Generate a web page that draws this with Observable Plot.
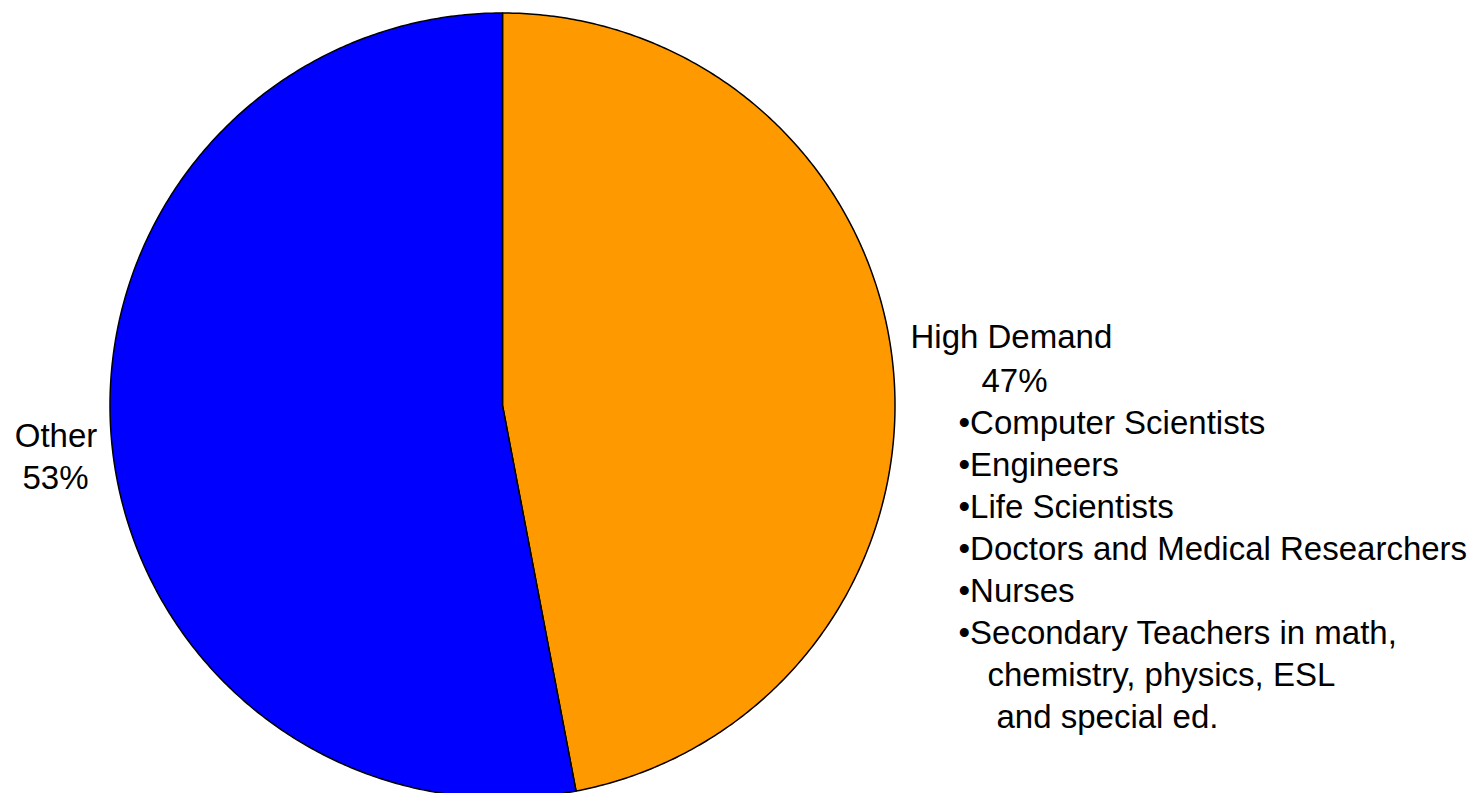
<!DOCTYPE html>
<html>
<head>
<meta charset="utf-8">
<script src="https://cdn.jsdelivr.net/npm/d3@7"></script>
<script src="https://cdn.jsdelivr.net/npm/@observablehq/plot@0.6"></script>
<style>
  html, body { margin: 0; padding: 0; background: #fff; overflow: hidden; }
  svg { display: block; }
</style>
</head>
<body>
<div id="chart"></div>
<script>
// Share of occupations
const categories = ["High Demand", "Other"];
const shares = [47, 53];
const colors = ["#FF9900", "#0000FF"];

// Occupations listed under the high-demand slice (continuation lines are wrapped text)
const occupations = [
  "Computer Scientists",
  "Engineers",
  "Life Scientists",
  "Doctors and Medical Researchers",
  "Nurses",
  "Secondary Teachers in math,"
];
const occupationWrap = ["chemistry, physics, ESL", "and special ed."];

// Slice outlines: start at 12 o'clock and go clockwise, sampling the arc finely
const total = d3.sum(shares);
const slices = [];
let start = 0;
categories.forEach((category, i) => {
  const end = start + (shares[i] / total) * 2 * Math.PI;
  const steps = Math.max(2, Math.ceil((end - start) / (Math.PI / 360)));
  slices.push({category, x: 0, y: 0});
  for (let k = 0; k <= steps; ++k) {
    const a = start + (end - start) * (k / steps);
    slices.push({category, x: Math.sin(a), y: Math.cos(a)});
  }
  slices.push({category, x: 0, y: 0});
  start = end;
});

const font = "Liberation Sans, Arial, Helvetica, sans-serif";
const fs = 33;
const label = (text, dx, dy, anchor = "start") =>
  Plot.text([text], {
    text: d => d,
    frameAnchor: "top-left",
    dx, dy,
    textAnchor: anchor,
    lineAnchor: "bottom",
    fontSize: fs,
    fill: "black"
  });

const hd = categories.indexOf("High Demand");
const ot = categories.indexOf("Other");

const marks = [
  Plot.line(slices, {
    x: "x", y: "y", z: "category",
    fill: "category",
    stroke: "black",
    strokeWidth: 1.5,
    strokeLinejoin: "round"
  }),
  label(categories[ot], 55.5, 446, "middle"),
  label(`${shares[ot]}%`, 55, 488, "middle"),
  label(categories[hd], 910, 347),
  label(`${shares[hd]}%`, 981, 391),
  ...occupations.map((o, i) => label(`•${o}`, 958, 433 + 42 * i)),
  label(occupationWrap[0], 987, 433 + 42 * occupations.length),
  label(occupationWrap[1], 996, 433 + 42 * (occupations.length + 1))
];

const chart = Plot.plot({
  width: 1472,
  height: 793,
  margin: 0,
  style: {fontFamily: font, background: "white", overflow: "visible"},
  x: {domain: [-1, 1], range: [109.5, 894.5], axis: null},
  y: {domain: [-1, 1], range: [797.5, 12.5], axis: null},
  color: {domain: categories, range: colors},
  marks
});
document.getElementById("chart").append(chart);
</script>
</body>
</html>
